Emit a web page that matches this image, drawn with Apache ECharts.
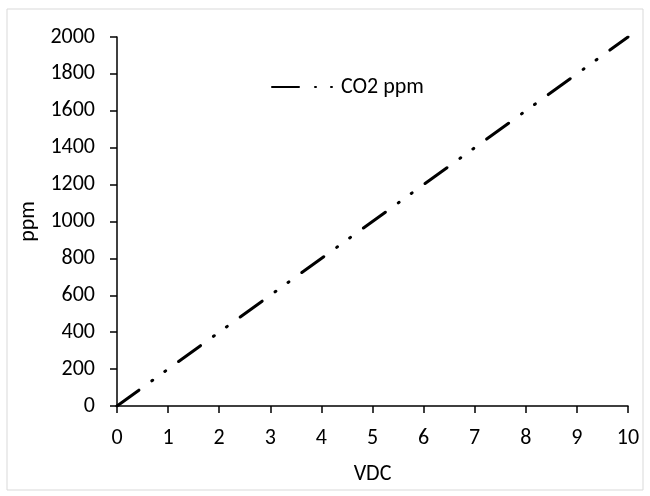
<!DOCTYPE html>
<html>
<head>
<meta charset="utf-8">
<script src="https://cdn.jsdelivr.net/npm/echarts@6/dist/echarts.min.js"></script>
<style>
html, body { margin: 0; padding: 0; background: #fff; }
#chart { width: 650px; height: 496px; }
</style>
</head>
<body>
<div id="chart"></div>
<script>
const vdc = [0, 10];
const ppm = [0, 2000];
const seriesName = "CO2 ppm";

const font = "Carlito, 'Liberation Sans', sans-serif";
const chart = echarts.init(document.getElementById("chart"));

chart.setOption({
    animation: false,
    graphic: [{
        type: "rect",
        shape: { x: 7, y: 9, width: 636, height: 481 },
        style: { fill: "none", stroke: "#d9d9d9", lineWidth: 1 },
        silent: true,
    }],
    grid: { left: 117, right: 22, top: 37, bottom: 90 },
    legend: {
        data: [seriesName],
        left: 266,
        top: 71,
        itemWidth: 64,
        itemHeight: 12,
        itemGap: 12,
        itemStyle: { opacity: 0 },
        textStyle: { fontFamily: font, fontSize: 22, color: "#000" },
    },
    xAxis: {
        type: "value",
        min: 0,
        max: 10,
        interval: 1,
        name: "VDC",
        nameLocation: "middle",
        nameGap: 57,
        nameTextStyle: { fontFamily: font, fontSize: 22, color: "#000" },
        axisLine: { show: true, onZero: false, lineStyle: { color: "#000", width: 1.5 } },
        axisTick: { show: true, length: 7, lineStyle: { color: "#000", width: 1.5 } },
        axisLabel: { fontFamily: font, fontSize: 22, color: "#000", margin: 21 },
        splitLine: { show: false },
    },
    yAxis: {
        type: "value",
        min: 0,
        max: 2000,
        interval: 200,
        name: "ppm",
        nameLocation: "middle",
        nameGap: 73,
        nameTextStyle: { fontFamily: font, fontSize: 22, color: "#000" },
        axisLine: { show: true, lineStyle: { color: "#000", width: 1.5 } },
        axisTick: { show: true, length: 7, lineStyle: { color: "#000", width: 1.5 } },
        axisLabel: {
            fontFamily: font, fontSize: 22, color: "#000", margin: 22,
            formatter: (v) => String(v),
        },
        splitLine: { show: false },
    },
    series: [{
        name: seriesName,
        type: "line",
        data: vdc.map((v, i) => [v, ppm[i]]),
        showSymbol: false,
        symbol: "none",
        lineStyle: {
            color: "#000",
            width: 3,
            type: [27, 16, 1, 15, 1, 16],
            cap: "round",
        },
        itemStyle: { color: "#000" },
    }],
});
</script>
</body>
</html>
